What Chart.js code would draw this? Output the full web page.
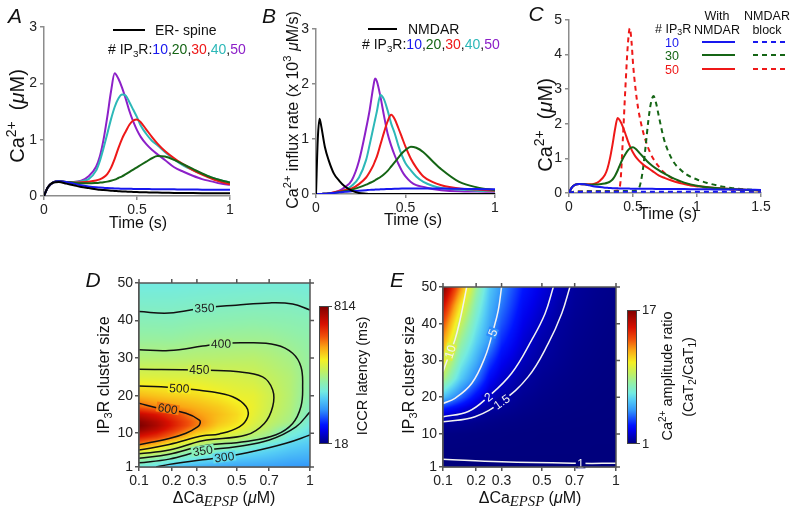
<!DOCTYPE html>
<html><head><meta charset="utf-8">
<script src="https://cdn.jsdelivr.net/npm/chart.js@4.4.1/dist/chart.umd.min.js"></script>
<style>
html,body{margin:0;padding:0;background:#fff;}
body{position:relative;width:800px;height:515px;overflow:hidden;}
canvas{position:absolute;}
</style></head><body>
<script>
// ================= DATA =================
// Panel A: Ca2+ (uM) vs time (s)
const timeA = [0,0.02,0.05,0.08,0.12,0.16,0.2,0.24,0.28,0.30,0.32,0.34,0.36,0.38,0.40,0.42,0.44,0.46,0.48,0.50,0.52,0.55,0.58,0.61,0.65,0.70,0.75,0.80,0.85,0.90,0.95,1.0];
const caA_erMinus = [0,.15,.24,.25,.22,.19,.16,.14,.12,.11,.105,.10,.095,.09,.085,.08,.078,.075,.073,.07,.068,.065,.063,.06,.058,.055,.053,.052,.051,.05,.05,.05];
const caA_ip10 = [0,.15,.24,.26,.25,.22,.19,.17,.155,.15,.145,.14,.137,.135,.132,.13,.128,.127,.126,.125,.124,.123,.122,.121,.12,.118,.116,.115,.113,.112,.111,.11];
const caA_ip20 = [0,.15,.24,.26,.25,.235,.225,.225,.232,.238,.245,.255,.27,.29,.32,.35,.39,.43,.47,.51,.55,.61,.67,.71,.70,.64,.56,.48,.40,.33,.28,.24];
const caA_ip30 = [0,.15,.24,.26,.25,.24,.245,.255,.275,.295,.33,.39,.5,.66,.85,1.02,1.15,1.27,1.34,1.36,1.31,1.18,1.05,.93,.80,.67,.56,.46,.38,.31,.25,.21];
const caA_ip40 = [0,.15,.24,.26,.25,.25,.26,.3,.45,.62,.85,1.1,1.36,1.58,1.73,1.80,1.78,1.66,1.53,1.40,1.25,1.10,.98,.90,.78,.65,.54,.46,.39,.33,.28,.24];
const caA_ip50 = [0,.15,.24,.26,.25,.25,.27,.35,.52,.70,1.0,1.4,1.85,2.18,2.08,1.92,1.72,1.50,1.32,1.17,1.05,.92,.82,.74,.64,.51,.43,.36,.30,.26,.22,.20];

// Panel B: Ca2+ influx rate (x10^3 uM/s)
const timeB = [0,.01,.02,.03,.05,.07,.1,.13,.16,.2,.24,.28,.30,.32,.33,.34,.36,.38,.40,.42,.44,.46,.48,.50,.53,.56,.60,.65,.70,.8,.9,1.0];
const fluxB_nmdar = [0,1.0,1.37,1.22,.85,.62,.37,.24,.14,.06,.02,.005,0,0,0,0,0,0,0,0,0,0,0,0,0,0,0,0,0,0,0,0];
const fluxB_ip10 = [0,0,0,.002,.005,.01,.02,.03,.04,.05,.06,.07,.075,.078,.08,.082,.085,.088,.09,.092,.094,.096,.098,.1,.1,.1,.1,.1,.1,.095,.09,.085];
const fluxB_ip20 = [0,0,0,0,.005,.01,.02,.035,.05,.08,.12,.17,.2,.23,.25,.27,.31,.36,.42,.5,.58,.66,.74,.8,.86,.84,.76,.6,.45,.22,.12,.07];
const fluxB_ip30 = [0,0,0,0,.005,.01,.03,.05,.07,.1,.18,.3,.4,.52,.6,.68,.9,1.12,1.32,1.44,1.36,1.2,1.03,.86,.64,.48,.32,.22,.16,.1,.08,.06];
const fluxB_ip40 = [0,0,0,0,.005,.01,.02,.04,.07,.15,.3,.62,.9,1.2,1.35,1.5,1.8,1.72,1.52,1.28,1.1,.88,.7,.56,.43,.32,.22,.15,.11,.08,.06,.05];
const fluxB_ip50 = [0,0,0,0,.005,.01,.03,.06,.12,.25,.6,1.19,1.53,1.95,2.1,2.05,1.77,1.42,1.1,.88,.7,.55,.42,.32,.22,.16,.13,.09,.07,.05,.045,.04];

// Panel C: with NMDAR (solid) and NMDAR block (dashed)
const timeC = [0,0.02,0.05,0.08,0.12,0.16,0.2,0.24,0.28,0.30,0.32,0.34,0.36,0.38,0.40,0.42,0.44,0.46,0.48,0.50,0.52,0.55,0.58,0.61,0.65,0.70,0.75,0.80,0.85,0.90,0.95,1.0,1.1,1.2,1.3,1.4,1.5];
const caC_nmda10 = [0,.15,.24,.26,.25,.22,.19,.17,.155,.15,.145,.14,.137,.135,.132,.13,.128,.127,.126,.125,.124,.123,.122,.121,.12,.118,.116,.115,.113,.112,.111,.11,.105,.1,.1,.095,.09];
const caC_nmda30 = [0,.15,.24,.26,.25,.24,.245,.255,.275,.295,.33,.39,.5,.65,.83,.99,1.12,1.23,1.3,1.32,1.28,1.16,1.04,.92,.79,.66,.55,.45,.37,.3,.25,.21,.16,.13,.11,.09,.08];
const caC_nmda50 = [0,.15,.24,.26,.25,.25,.27,.35,.52,.70,1.0,1.4,1.85,2.17,2.08,1.92,1.72,1.50,1.32,1.17,1.05,.92,.82,.74,.64,.51,.43,.36,.30,.26,.22,.20,.16,.13,.11,.09,.08];
const timeBlock10 = [0,0.05,0.3,0.6,1.0,1.5];
const caBlock10 = [0,0.03,0.035,0.035,0.035,0.035];
const timeBlock30 = [0,.05,.3,.5,.54,.56,.58,.60,.62,.64,.66,.68,.70,.72,.74,.77,.82,.87,.92,1.0,1.08,1.18,1.28,1.4,1.5];
const caBlock30 = [0,.04,.05,.06,.1,.3,.75,1.4,2.1,2.6,2.8,2.6,2.25,1.9,1.58,1.25,.88,.68,.53,.39,.29,.2,.14,.1,.08];
const timeBlock50 = [0,.05,.3,.38,.40,.42,.44,.46,.475,.49,.50,.52,.54,.57,.60,.63,.66,.70,.74,.80,.87,.95,1.08,1.2,1.35,1.5];
const caBlock50 = [0,.04,.05,.07,.25,1.5,3.0,4.3,4.76,4.3,3.75,3.0,2.45,1.9,1.5,1.2,.98,.77,.6,.44,.32,.23,.15,.11,.09,.08];

// Panels D/E shared axes
const xTicksUM = [0.1,0.2,0.3,0.5,0.7,1];
const xTickLabels = ['0.1','0.2','0.3','0.5','0.7','1'];
const nTicks = [1,10,20,30,40,50];

// Panel D: ICCR latency (ms) grid, one array per dCa_EPSP column over cluster sizes
const latencyCa = [0.1,0.15,0.2,0.3,0.4,0.5,0.6,0.7,0.85,1.0];
const latencyN = [1,3,5,7,9,11,12,13,15,17,20,25,30,35,40,45,50];
const lat_c010 = [322,387,475,607,705,790,814,800,735,630,557,473,421,386,362,340,320];
const lat_c015 = [300,365,450,555,665,740,760,752,700,598,545,472,421,386,361,340,320];
const lat_c020 = [270,338,418,493,610,680,700,698,660,585,535,470,420,385,360,340,320];
const lat_c030 = [245,308,350,428,504,575,605,610,585,560,525,470,425,392,366,343,323];
const lat_c040 = [235,292,335,396,467,520,537,548,553,540,508,463,426,395,368,345,325];
const lat_c050 = [232,272,317,378,448,493,508,518,525,515,490,462,427,397,370,347,326];
const lat_c060 = [230,265,298,343,415,452,465,475,485,490,485,455,428,397,372,348,327];
const lat_c070 = [228,258,285,320,390,420,430,438,448,455,458,440,420,395,370,349,328];
const lat_c085 = [222,245,268,290,320,350,385,403,412,418,422,420,405,385,367,348,327];
const lat_c100 = [218,240,258,276,295,310,318,326,345,356,368,380,383,376,362,342,325];
const latencyRange = [18,814];
// D contours (dCa in uM, cluster size)
const d350a_ca = [0.1,0.191,0.334,0.496,0.701,0.866,1.0];           const d350a_n = [42.4,42.0,43.4,44.1,44.7,44.4,42.8];
const d400_ca = [0.1,0.191,0.326,0.415,0.554,0.747,0.866,0.929,0.942,0.929,0.866,0.747,0.554,0.326,0.191,0.1];
const d400_n  = [32.2,32.0,33.2,33.9,34.1,33.5,31.3,27.7,22.4,17.1,12.6,9.6,7.8,6.6,4.4,3.3];
const d450_ca = [0.1,0.311,0.496,0.657,0.724,0.724,0.668,0.554,0.326,0.191,0.1];
const d450_n  = [27.0,26.8,26.4,25.0,21.5,17.1,12.6,9.5,8.0,5.5,4.5];
const d500_ca = [0.1,0.228,0.357,0.477,0.554,0.564,0.515,0.406,0.326,0.191,0.1];
const d500_n  = [22.6,22.0,21.1,19.7,17.1,14.4,11.7,9.8,9.3,7.0,5.5];
const d600_ca = [0.1,0.158,0.254,0.311,0.314,0.303,0.254,0.191,0.1];
const d600_n  = [18.0,16.6,15.3,13.5,12.6,11.7,10.0,8.6,6.9];
const d350b_ca = [1.0,0.891,0.701,0.496,0.326,0.191,0.1];          const d350b_n = [15.7,11.7,8.2,6.4,5.3,3.1,2.1];
const d300_ca = [1.0,0.817,0.594,0.432,0.326,0.191,0.148];          const d300_n = [9.5,7.3,5.1,3.7,2.9,1.7,1.0];
const dLabelText = ['350','400','450','500','600','350','300'];
const dLabelCa = [0.334,0.415,0.311,0.228,0.186,0.326,0.432];
const dLabelN = [43.4,33.9,26.8,22.0,16.6,5.4,3.7];

// Panel E: Ca2+ amplitude ratio grid
const ratioCa = [0.1,0.15,0.2,0.25,0.3,0.4,0.5,0.6,0.7,0.85,1.0];
const ratioN = [1,3,5,10,13,15,17,20,25,30,35,40,45,50];
const rat_c010 = [0.985,1.0,1.02,1.1,1.45,2.2,3.5,6.0,9.0,10.8,12.2,13.6,15.2,17];
const rat_c015 = [0.985,1.0,1.02,1.08,1.32,1.75,2.6,4.3,6.2,7.3,8.4,9.5,10.8,12.5];
const rat_c020 = [0.985,1.0,1.02,1.06,1.22,1.5,1.85,2.9,4.6,5.6,6.4,7.1,7.8,8.6];
const rat_c025 = [0.985,1.0,1.02,1.05,1.16,1.3,1.5,1.93,2.9,3.9,5.0,5.4,5.8,6.2];
const rat_c030 = [0.985,1.0,1.02,1.04,1.12,1.22,1.36,1.6,2.15,2.8,3.5,4.1,4.6,5.0];
const rat_c040 = [0.99,1.0,1.015,1.03,1.08,1.13,1.2,1.3,1.53,1.9,2.25,2.6,2.95,3.3];
const rat_c050 = [0.99,1.0,1.012,1.02,1.05,1.08,1.12,1.18,1.3,1.45,1.64,1.92,2.2,2.45];
const rat_c060 = [0.99,1.0,1.01,1.02,1.04,1.06,1.08,1.12,1.2,1.3,1.38,1.47,1.65,1.85];
const rat_c070 = [0.99,1.0,1.01,1.01,1.03,1.04,1.06,1.08,1.13,1.18,1.24,1.3,1.38,1.45];
const rat_c085 = [0.99,1.0,1.005,1.01,1.02,1.03,1.04,1.05,1.08,1.11,1.14,1.18,1.22,1.27];
const rat_c100 = [0.99,1.0,1.005,1.01,1.015,1.02,1.025,1.03,1.05,1.07,1.09,1.11,1.14,1.17];
const ratioRange = [1,17];
const e10_ca = [0.1,0.114,0.132,0.147,0.160,0.168];          const e10_n = [26.9,31.0,35.6,41.0,46.5,50];
const e5_ca = [0.1,0.132,0.185,0.233,0.265,0.286,0.300];     const e5_n = [18.3,19.7,23.8,31.0,38.3,43.7,50];
const e2_ca = [0.1,0.173,0.245,0.345,0.445,0.518,0.566];     const e2_n = [14.7,16.1,20.1,26.5,35.6,42.8,50];
const e15_ca = [0.1,0.196,0.300,0.427,0.537,0.617,0.669];    const e15_n = [13.3,14.7,18.8,25.6,34.7,42.8,50];
const e1_ca = [0.1,0.300,0.724,1.0];                         const e1_n = [3.1,2.4,2.0,2.0];
const eLabelText = ['10','5','2','1.5','1'];
const eLabelCa = [0.118,0.262,0.245,0.30,0.74];
const eLabelN = [32.4,37.6,20.1,18.8,2.0];

// ================= DRAWING =================
const SANS = "'Liberation Sans', Arial, Helvetica, sans-serif";
const SERIF = "'Liberation Serif', 'DejaVu Serif', serif";
Chart.defaults.font.family = SANS;
Chart.defaults.color = '#222';
const COL = {k:'#000000', b:'#1818ee', g:'#156515', r:'#ee1818', c:'#2db8b8', p:'#8c20c8'};
const fmtTick = v => String(Math.round(v*100)/100);

function pts(xs, ys){ return xs.map((x,i)=>({x:x, y:ys[i]})); }
function sqrtPts(cs, ns){ return cs.map((c,i)=>({x:Math.sqrt(c), y:ns[i]})); }
function mkCanvas(box){
  const c = document.createElement('canvas');
  c.width = box.w; c.height = box.h;
  c.style.left = box.x+'px'; c.style.top = box.y+'px';
  c.style.width = box.w+'px'; c.style.height = box.h+'px';
  document.body.appendChild(c); return c;
}
function rich(ctx, parts, x, y, o){
  o = o || {};
  const fs = o.size || 16, base = o.color || '#111';
  const fontOf = p => {
    let sz = fs;
    if (p.s==='sup' || p.s==='sub') sz = fs*0.7;
    if (p.s==='low') sz = fs*0.92;
    return (p.it?'italic ':'') + sz.toFixed(1) + 'px ' + (p.serif?SERIF:SANS);
  };
  const ws = parts.map(p => { ctx.font = fontOf(p); return ctx.measureText(p.t).width; });
  const W = ws.reduce((a,b)=>a+b,0);
  ctx.save(); ctx.translate(x,y); if (o.rot) ctx.rotate(o.rot);
  let cx = o.align==='left' ? 0 : (o.align==='right' ? -W : -W/2);
  ctx.textAlign = 'left'; ctx.textBaseline = 'alphabetic';
  const by = fs*0.36;
  parts.forEach((p,i) => {
    ctx.font = fontOf(p); ctx.fillStyle = p.c || base;
    let dy = by;
    if (p.s==='sup') dy = by - fs*0.42;
    if (p.s==='sub') dy = by + fs*0.22;
    if (p.s==='low') dy = by + fs*0.18;
    ctx.fillText(p.t, cx, dy); cx += ws[i];
  });
  ctx.restore();
}
function letter(ctx, ch, x, y){
  ctx.save(); ctx.font = 'italic 21px '+SANS; ctx.fillStyle = '#111';
  ctx.textAlign='center'; ctx.textBaseline='middle'; ctx.fillText(ch, x, y); ctx.restore();
}
function hline(ctx, x1, x2, y, col, dash){
  ctx.save(); ctx.strokeStyle = col; ctx.lineWidth = 2; ctx.setLineDash(dash||[]);
  ctx.beginPath(); ctx.moveTo(x1,y); ctx.lineTo(x2,y); ctx.stroke(); ctx.restore();
}
function axisStyle(col){
  return {grid:{drawOnChartArea:false, drawTicks:true, tickLength:4, color:col, lineWidth:1.5},
          border:{display:true, color:col, width:1.5}};
}
function ds(xs, ys, col, dash){
  return {data:pts(xs,ys), borderColor:col, borderWidth:2, pointRadius:0, fill:false,
          borderDash:dash||[], cubicInterpolationMode:'monotone'};
}
function linePanel(box, area, datasets, xr, yr, drawFn){
  const cv = mkCanvas(box);
  const ax = axisStyle('#8c8c8c');
  return new Chart(cv, {type:'line', data:{datasets:datasets}, options:{
    responsive:false, maintainAspectRatio:false, animation:false, devicePixelRatio:1, events:[],
    layout:{padding:{left:0, top:area.t-box.y, right:box.x+box.w-area.r, bottom:0}},
    plugins:{legend:{display:false}, tooltip:{enabled:false}},
    elements:{point:{radius:0}},
    scales:{
      x:{type:'linear', min:xr[0], max:xr[1], ticks:{stepSize:xr[2], callback:fmtTick, font:{size:14}, color:'#222', padding:2, maxRotation:0, autoSkip:false},
         grid:ax.grid, border:ax.border, afterFit(s){ s.height = box.y+box.h-area.b; }},
      y:{type:'linear', min:yr[0], max:yr[1], ticks:{stepSize:yr[2], callback:fmtTick, font:{size:14}, color:'#222', padding:3, autoSkip:false},
         grid:ax.grid, border:ax.border, afterFit(s){ s.width = area.l-box.x; }}
    }},
    plugins:[{id:'txt', afterDraw(ch){ const ctx = ch.ctx; ctx.save(); ctx.translate(-box.x,-box.y); drawFn(ctx, ch); ctx.restore(); }}]
  });
}

// colormap (jet-like as seen in the colour bars)
const CMAP = [[0,0,0,125],[0.10,0,0,235],[0.14,0,20,255],[0.25,50,150,250],[0.33,85,205,245],[0.38,115,235,225],
              [0.45,145,240,170],[0.53,195,240,95],[0.61,245,240,35],[0.70,250,165,20],[0.78,240,80,10],[0.87,215,15,0],[1,125,0,0]];
function cmap(t){
  t = Math.max(0, Math.min(1, t));
  for (let i=1;i<CMAP.length;i++){
    if (t <= CMAP[i][0]){ const a=CMAP[i-1], b=CMAP[i], f=(t-a[0])/(b[0]-a[0]);
      return [a[1]+f*(b[1]-a[1]), a[2]+f*(b[2]-a[2]), a[3]+f*(b[3]-a[3])]; }
  }
  return CMAP[CMAP.length-1].slice(1);
}
function rgb(c){ return 'rgb('+Math.round(c[0])+','+Math.round(c[1])+','+Math.round(c[2])+')'; }
function bilin(us, ns, cols, u, n){
  let i = 0; while (i < us.length-2 && u > us[i+1]) i++;
  let j = 0; while (j < ns.length-2 && n > ns[j+1]) j++;
  const fx = Math.max(0, Math.min(1, (u-us[i])/(us[i+1]-us[i])));
  const fy = Math.max(0, Math.min(1, (n-ns[j])/(ns[j+1]-ns[j])));
  const v00=cols[i][j], v10=cols[i+1][j], v01=cols[i][j+1], v11=cols[i+1][j+1];
  return (v00*(1-fx)+v10*fx)*(1-fy) + (v01*(1-fx)+v11*fx)*fy;
}

function heatPanel(box, area, grid, range, contours, lineCol, labels, labelCol, cb, drawFn){
  const us = grid.xs.map(Math.sqrt);
  const colAt = v => cmap((v-range[0])/(range[1]-range[0]));
  const cv = mkCanvas(box);
  const ax = axisStyle('#555');
  const datasets = contours.map(k => ({data:sqrtPts(k[0],k[1]), showLine:true, borderColor:lineCol, borderWidth:1.5,
                                       pointRadius:0, tension:0.4, fill:false}));
  return new Chart(cv, {type:'scatter', data:{datasets:datasets}, options:{
    responsive:false, maintainAspectRatio:false, animation:false, devicePixelRatio:1, events:[],
    layout:{padding:{left:0, top:area.t-box.y, right:box.x+box.w-area.r, bottom:0}},
    plugins:{legend:{display:false}, tooltip:{enabled:false}},
    scales:{
      x:{type:'linear', min:Math.sqrt(xTicksUM[0]), max:Math.sqrt(xTicksUM[xTicksUM.length-1]),
         afterBuildTicks(s){ s.ticks = xTicksUM.map(v=>({value:Math.sqrt(v)})); },
         ticks:{callback:(v,i)=>xTickLabels[i], font:{size:14}, color:'#222', padding:2, maxRotation:0, autoSkip:false},
         grid:ax.grid, border:ax.border, afterFit(s){ s.height = box.y+box.h-area.b; }},
      y:{type:'linear', min:nTicks[0], max:nTicks[nTicks.length-1],
         afterBuildTicks(s){ s.ticks = nTicks.map(v=>({value:v})); },
         ticks:{font:{size:14}, color:'#222', padding:2, autoSkip:false},
         grid:ax.grid, border:ax.border, afterFit(s){ s.width = area.l-box.x; }}
    }},
    plugins:[{id:'heat',
      beforeDatasetsDraw(ch){
        const ctx=ch.ctx, a=ch.chartArea, X=ch.scales.x, Y=ch.scales.y;
        const L=Math.round(a.left), T=Math.round(a.top), W=Math.round(a.right)-L, H=Math.round(a.bottom)-T;
        const off=document.createElement('canvas'); off.width=W; off.height=H;
        const oc=off.getContext('2d'); const im=oc.createImageData(W,H);
        for (let j=0;j<H;j++){ const n=Y.getValueForPixel(T+j+0.5);
          for (let i=0;i<W;i++){ const u=X.getValueForPixel(L+i+0.5);
            const c=colAt(bilin(us, grid.ns, grid.cols, u, n)); const k=(j*W+i)*4;
            im.data[k]=c[0]; im.data[k+1]=c[1]; im.data[k+2]=c[2]; im.data[k+3]=255; } }
        oc.putImageData(im,0,0); ctx.drawImage(off,L,T);
      },
      afterDatasetsDraw(ch){
        const ctx=ch.ctx, a=ch.chartArea, X=ch.scales.x, Y=ch.scales.y;
        labels.t.forEach((t,i)=>{
          const c=labels.ca[i], n=labels.n[i];
          const px=X.getPixelForValue(Math.sqrt(c)), py=Y.getPixelForValue(n);
          ctx.save(); ctx.translate(px,py); ctx.rotate((labels.ang[i]||0)*Math.PI/180);
          ctx.font='12px '+SANS; const w=ctx.measureText(t).width;
          ctx.fillStyle=rgb(colAt(bilin(us, grid.ns, grid.cols, Math.sqrt(c), n)));
          ctx.fillRect(-w/2-1.5,-5,w+3,10);
          ctx.fillStyle=labelCol; ctx.textAlign='center'; ctx.textBaseline='middle'; ctx.fillText(t,0,1);
          ctx.restore();
        });
        ctx.save(); ctx.strokeStyle='#555'; ctx.lineWidth=1.5;
        ctx.strokeRect(a.left, a.top, a.right-a.left, a.bottom-a.top);
        ctx.beginPath();
        X.ticks.forEach(t=>{ const p=X.getPixelForValue(t.value); ctx.moveTo(p,a.top); ctx.lineTo(p,a.top-4); });
        Y.ticks.forEach(t=>{ const p=Y.getPixelForValue(t.value); ctx.moveTo(a.right,p); ctx.lineTo(a.right+4,p); });
        ctx.stroke(); ctx.restore();
      },
      afterDraw(ch){
        const ctx=ch.ctx; ctx.save(); ctx.translate(-box.x,-box.y);
        const g=ctx.createLinearGradient(0,cb.y+cb.h,0,cb.y);
        CMAP.forEach(s=>g.addColorStop(s[0], rgb(s.slice(1))));
        ctx.fillStyle=g; ctx.fillRect(cb.x,cb.y,cb.w,cb.h);
        ctx.strokeStyle='#444'; ctx.lineWidth=1; ctx.strokeRect(cb.x+0.5,cb.y+0.5,cb.w-1,cb.h-1);
        ctx.beginPath(); ctx.moveTo(cb.x+cb.w,cb.y+0.5); ctx.lineTo(cb.x+cb.w+3,cb.y+0.5);
        ctx.moveTo(cb.x+cb.w,cb.y+cb.h-0.5); ctx.lineTo(cb.x+cb.w+3,cb.y+cb.h-0.5); ctx.stroke();
        ctx.font='13px '+SANS; ctx.fillStyle='#222'; ctx.textAlign='left'; ctx.textBaseline='middle';
        ctx.fillText(cb.labels[0], cb.x+cb.w+5, cb.y); ctx.fillText(cb.labels[1], cb.x+cb.w+5, cb.y+cb.h);
        drawFn(ctx, ch);
        ctx.restore();
      }}]
  });
}

// ----- Panel A -----
const legendIP = [{t:'# IP'},{t:'3',s:'sub'},{t:'R:'},{t:'10',c:COL.b},{t:','},{t:'20',c:COL.g},{t:','},{t:'30',c:COL.r},{t:','},{t:'40',c:COL.c},{t:','},{t:'50',c:COL.p}];
const caTitle = [{t:'Ca'},{t:'2+',s:'sup'},{t:'  ('},{t:'\u03BC',it:true},{t:'M)'}];
linePanel({x:0,y:0,w:262,h:235}, {l:44,t:27,r:230,b:196},
  [ds(timeA,caA_erMinus,COL.k), ds(timeA,caA_ip10,COL.b), ds(timeA,caA_ip20,COL.g),
   ds(timeA,caA_ip30,COL.r), ds(timeA,caA_ip40,COL.c), ds(timeA,caA_ip50,COL.p)],
  [0,1,0.5], [0,3,1], (ctx)=>{
    letter(ctx,'A',15,17);
    hline(ctx,113,145,30,'#000');
    rich(ctx,[{t:'ER- spine'}],155,30,{size:14,align:'left'});
    rich(ctx,legendIP,108,49,{size:14,align:'left'});
    rich(ctx,caTitle,17,116,{size:20,rot:-Math.PI/2});
    rich(ctx,[{t:'Time (s)'}],138,222,{size:16});
  });

// ----- Panel B -----
linePanel({x:262,y:0,w:260,h:235}, {l:316,t:29,r:495,b:194},
  [ds(timeB,fluxB_nmdar,COL.k), ds(timeB,fluxB_ip10,COL.b), ds(timeB,fluxB_ip20,COL.g),
   ds(timeB,fluxB_ip30,COL.r), ds(timeB,fluxB_ip40,COL.c), ds(timeB,fluxB_ip50,COL.p)],
  [0,1,0.5], [0,3,1], (ctx)=>{
    letter(ctx,'B',269,17);
    hline(ctx,368,397,29,'#000');
    rich(ctx,[{t:'NMDAR'}],408,29,{size:14,align:'left'});
    rich(ctx,legendIP,362,44,{size:14,align:'left'});
    rich(ctx,[{t:'Ca'},{t:'2+',s:'sup'},{t:' influx rate (x 10'},{t:'3',s:'sup'},{t:' '},{t:'\u03BC',it:true},{t:'M/s)'}],292,110,{size:16,rot:-Math.PI/2});
    rich(ctx,[{t:'Time (s)'}],413,219,{size:16});
  });

// ----- Panel C -----
linePanel({x:522,y:0,w:278,h:235}, {l:569,t:20,r:761,b:193},
  [ds(timeC,caC_nmda10,COL.b), ds(timeC,caC_nmda30,COL.g), ds(timeC,caC_nmda50,COL.r),
   ds(timeBlock10,caBlock10,COL.b,[5,4]), ds(timeBlock30,caBlock30,COL.g,[5,4]), ds(timeBlock50,caBlock50,COL.r,[5,4])],
  [0,1.5,0.5], [0,5,1], (ctx)=>{
    letter(ctx,'C',536,15);
    rich(ctx,caTitle,545,125,{size:20,rot:-Math.PI/2});
    rich(ctx,[{t:'Time (s)'}],668,213,{size:16});
    rich(ctx,[{t:'# IP'},{t:'3',s:'sub'},{t:'R'}],655,28,{size:12.5,align:'left'});
    rich(ctx,[{t:'With'}],717,15,{size:12.5}); rich(ctx,[{t:'NMDAR'}],717,29,{size:12.5});
    rich(ctx,[{t:'NMDAR'}],767,15,{size:12.5}); rich(ctx,[{t:'block'}],767,29,{size:12.5});
    const rows=[['10',COL.b,42],['30',COL.g,55],['50',COL.r,69]];
    rows.forEach(r=>{ rich(ctx,[{t:r[0],c:r[1]}],672,r[2],{size:12.5});
      hline(ctx,702,735,r[2],r[1]); hline(ctx,753,786,r[2],r[1],[5,4]); });
  });

// ----- Panel D -----
const caxTitle = [{t:'\u0394Ca'},{t:'EPSP',s:'low',it:true,serif:true},{t:' ('},{t:'\u03BC',it:true},{t:'M)'}];
const ipTitle = [{t:'IP'},{t:'3',s:'sub'},{t:'R cluster size'}];
heatPanel({x:60,y:262,w:340,h:253}, {l:139,t:283,r:310,b:467},
  {xs:latencyCa, ns:latencyN, cols:[lat_c010,lat_c015,lat_c020,lat_c030,lat_c040,lat_c050,lat_c060,lat_c070,lat_c085,lat_c100]},
  latencyRange,
  [[d350a_ca,d350a_n],[d400_ca,d400_n],[d450_ca,d450_n],[d500_ca,d500_n],[d600_ca,d600_n],[d350b_ca,d350b_n],[d300_ca,d300_n]],
  '#111',
  {t:dLabelText, ca:dLabelCa, n:dLabelN, ang:[-2,-1,0,3,10,-9,-8]}, '#222',
  {x:319,y:306,w:10,h:138,labels:['814','18']},
  (ctx)=>{
    letter(ctx,'D',93,281);
    rich(ctx,ipTitle,103,375,{size:16,rot:-Math.PI/2});
    rich(ctx,caxTitle,224,497,{size:16});
    rich(ctx,[{t:'ICCR latency (ms)'}],362,376,{size:14.5,rot:-Math.PI/2});
  });

// ----- Panel E -----
heatPanel({x:385,y:262,w:415,h:253}, {l:443,t:287,r:616,b:467},
  {xs:ratioCa, ns:ratioN, cols:[rat_c010,rat_c015,rat_c020,rat_c025,rat_c030,rat_c040,rat_c050,rat_c060,rat_c070,rat_c085,rat_c100]},
  ratioRange,
  [[e10_ca,e10_n],[e5_ca,e5_n],[e2_ca,e2_n],[e15_ca,e15_n],[e1_ca,e1_n]],
  '#f2f2f2',
  {t:eLabelText, ca:eLabelCa, n:eLabelN, ang:[-72,-68,-38,-35,0]}, '#f2f2f2',
  {x:627,y:310,w:10,h:134,labels:['17','1']},
  (ctx)=>{
    letter(ctx,'E',397,281);
    rich(ctx,ipTitle,408,375,{size:16,rot:-Math.PI/2});
    rich(ctx,caxTitle,530,497,{size:16});
    rich(ctx,[{t:'Ca'},{t:'2+',s:'sup'},{t:' amplitude ratio'}],667,376,{size:14.5,rot:-Math.PI/2});
    rich(ctx,[{t:'(CaT'},{t:'2',s:'sub'},{t:'/CaT'},{t:'1',s:'sub'},{t:')'}],688,377,{size:14.5,rot:-Math.PI/2});
  });
</script>
</body></html>
